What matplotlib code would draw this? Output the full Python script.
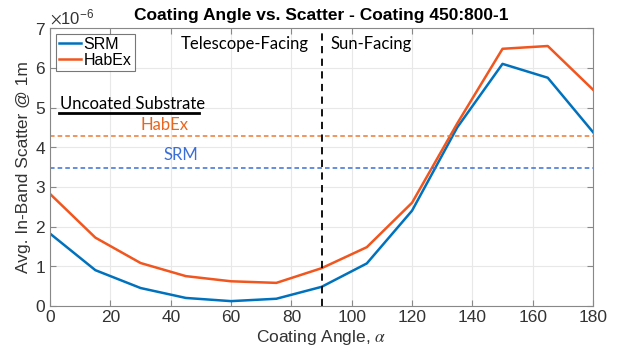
import matplotlib
matplotlib.use("Agg")
import matplotlib.pyplot as plt
import numpy as np

plt.rcParams["font.family"] = ["Liberation Sans", "DejaVu Sans"]
plt.rcParams["mathtext.fontset"] = "stix"

angles = [0, 15, 30, 45, 60, 75, 90, 105, 120, 135, 150, 165, 180]
srm = [1.82, 0.90, 0.45, 0.20, 0.12, 0.18, 0.48, 1.07, 2.40, 4.50, 6.10, 5.75, 4.38]
habex = [2.82, 1.72, 1.08, 0.75, 0.62, 0.58, 0.95, 1.48, 2.60, 4.60, 6.48, 6.55, 5.45]

srm_uncoated = 3.48
habex_uncoated = 4.27
boundary = 90

blue = "#0072BD"
orange = "#F0561E"

scale = 1e-6
srm = np.array(srm) * scale
habex = np.array(habex) * scale

fig = plt.figure(figsize=(6.19, 3.52), dpi=100)
ax = fig.add_axes([0.081, 0.131, 0.877, 0.789])

ax.plot(angles, srm, color=blue, lw=1.8, label="SRM")
ax.plot(angles, habex, color=orange, lw=1.8, label="HabEx")

ax.axhline(habex_uncoated * scale, color="#F07830", lw=1.1, ls=(0, (3, 2)))
ax.axhline(srm_uncoated * scale, color="#3A6FD8", lw=1.1, ls=(0, (3, 2)))
ax.axvline(boundary, color="black", lw=1.3, ls=(0, (4, 3)))

ax.set_xlim(0, 180)
ax.set_ylim(0, 7e-6)
ax.set_xticks(np.arange(0, 181, 20))
ax.set_yticks(np.arange(0, 8) * scale)
ax.ticklabel_format(axis="y", style="sci", scilimits=(0, 0), useMathText=True)
ax.yaxis.get_offset_text().set_fontsize(12)
ax.yaxis.get_offset_text().set_color("#444444")

ax.grid(True, color="#E8E8E8", lw=0.8)
ax.set_axisbelow(True)
ax.tick_params(direction="in", top=True, right=True, labelsize=12.5,
               colors="#444444", length=4, pad=3)
ax.tick_params(colors="#888888", which="both", labelcolor="#333333")
for s in ax.spines.values():
    s.set_color("#888888")
    s.set_linewidth(0.8)

ax.set_title("Coating Angle vs. Scatter - Coating 450:800-1",
             fontweight="bold", fontsize=12.5, pad=6)
ax.set_xlabel(r"Coating Angle, $\alpha$", fontsize=12.5, color="#333333", labelpad=2)
ax.set_ylabel("Avg. In-Band Scatter @ 1m", fontsize=12.5, color="#333333", labelpad=3)

leg = ax.legend(loc="upper left", fontsize=11.5, frameon=True, fancybox=False,
                handlelength=1.4, handletextpad=0.15, borderpad=0.2,
                borderaxespad=0.35, labelspacing=0.05)
leg.get_frame().set_edgecolor("#555555")
leg.get_frame().set_linewidth(0.8)

label_font = ["Lato", "DejaVu Sans"]
ax.text(64.5, 6.6e-6, "Telescope-Facing", ha="center", va="center",
        fontsize=12, family=label_font)
ax.text(93, 6.6e-6, "Sun-Facing", ha="left", va="center",
        fontsize=12, family=label_font)
ax.text(3.3, 5.1e-6, "Uncoated Substrate", ha="left", va="center",
        fontsize=12, family=label_font)
ax.plot([3.0, 49.5], [4.86e-6, 4.86e-6], color="black", lw=2)
ax.text(38, 4.55e-6, "HabEx", ha="center", va="center",
        fontsize=12, color="#E8661E", family=label_font)
ax.text(43.5, 3.8e-6, "SRM", ha="center", va="center",
        fontsize=12, color="#3A6FD8", family=label_font)

fig.savefig("out.png", dpi=100)
